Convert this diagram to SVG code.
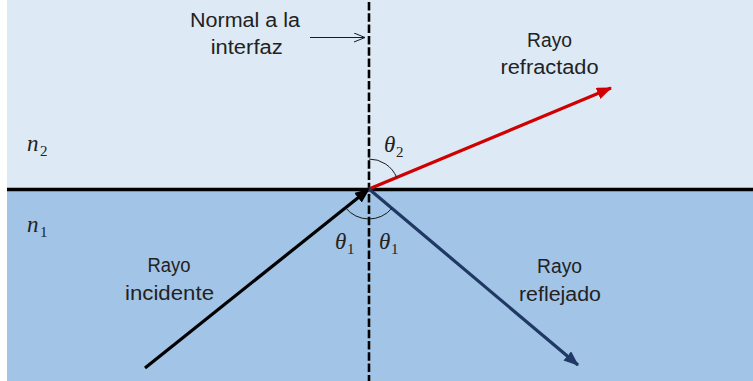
<svg xmlns="http://www.w3.org/2000/svg" width="753" height="381" viewBox="0 0 753 381">
<style>
.lbl{font-family:"Liberation Sans",Arial,sans-serif;font-size:19.5px;fill:#222;text-anchor:middle}
.math{font-family:"Liberation Serif","DejaVu Serif",serif;font-style:italic;font-size:23px;fill:#222}
.sub{font-family:"Liberation Serif","DejaVu Serif",serif;font-size:15px;fill:#222}
.arc{fill:none;stroke:#1a1a1a;stroke-width:1}
</style>
<defs>
<marker id="ahRed" markerUnits="userSpaceOnUse" markerWidth="16" markerHeight="12" refX="14" refY="6" orient="auto"><path d="M0,0 L15,6 L0,12 Z" fill="#d00000"/></marker>
<marker id="ahNavy" markerUnits="userSpaceOnUse" markerWidth="16" markerHeight="12" refX="14" refY="6" orient="auto"><path d="M0,0 L15,6 L0,12 Z" fill="#1f3864"/></marker>
<marker id="ahBlack" markerUnits="userSpaceOnUse" markerWidth="16" markerHeight="12" refX="14" refY="6" orient="auto"><path d="M0,0 L15,6 L0,12 Z" fill="#000"/></marker>
<marker id="ahOpen" markerUnits="userSpaceOnUse" markerWidth="12" markerHeight="10" refX="11" refY="5" orient="auto"><path d="M0,0.5 L11,5 L0,9.5" fill="none" stroke="#1a1a1a" stroke-width="1"/></marker>
</defs>
<rect x="0" y="0" width="753" height="381" fill="#ffffff"/>
<g id="medium2"><rect x="7" y="0" width="746" height="189" fill="#dde9f5"/></g>
<g id="medium1"><rect x="7" y="189" width="746" height="192" fill="#a2c4e6"/></g>
<g id="interface"><line x1="7" y1="189.5" x2="753" y2="189.5" stroke="#000" stroke-width="3.5"/></g>
<g id="normal"><line x1="369" y1="2" x2="369" y2="381" stroke="#000" stroke-width="2.6" stroke-dasharray="8.5,2.8"/></g>
<g id="connectors">
<line id="refracted" x1="369" y1="189" x2="611" y2="88" stroke="#d00000" stroke-width="3.2" marker-end="url(#ahRed)"/>
<line id="incident" x1="145" y1="368" x2="369" y2="189" stroke="#000" stroke-width="3.2" marker-end="url(#ahBlack)"/>
<line id="reflected" x1="369" y1="189" x2="578" y2="365" stroke="#1f3864" stroke-width="3.2" marker-end="url(#ahNavy)"/>
<line id="normal-pointer" x1="310" y1="37.5" x2="365" y2="37.5" stroke="#1a1a1a" stroke-width="1" marker-end="url(#ahOpen)"/>
</g>
<g id="angles">
<path class="arc" d="M369,159 A30,30 0 0 1 396.7,177.5"/>
<path class="arc" d="M345.6,207.8 A30,30 0 0 0 392,208.2"/>
</g>
<g id="label-normal">
<text class="lbl" x="245" y="27" textLength="110" lengthAdjust="spacingAndGlyphs">Normal a la</text>
<text class="lbl" x="246.7" y="54" textLength="72" lengthAdjust="spacingAndGlyphs">interfaz</text>
</g>
<g id="label-refracted">
<text class="lbl" x="549.5" y="46.7" textLength="45" lengthAdjust="spacingAndGlyphs">Rayo</text>
<text class="lbl" x="549.5" y="74.3" textLength="98" lengthAdjust="spacingAndGlyphs">refractado</text>
</g>
<g id="label-incident">
<text class="lbl" x="169" y="272" textLength="43" lengthAdjust="spacingAndGlyphs">Rayo</text>
<text class="lbl" x="169.5" y="300" textLength="89" lengthAdjust="spacingAndGlyphs">incidente</text>
</g>
<g id="label-reflected">
<text class="lbl" x="559.5" y="273.3" textLength="45" lengthAdjust="spacingAndGlyphs">Rayo</text>
<text class="lbl" x="560" y="301" textLength="82" lengthAdjust="spacingAndGlyphs">reflejado</text>
</g>
<g id="label-n2"><text class="math" x="27" y="151">n</text><text class="sub" x="40" y="156">2</text></g>
<g id="label-n1"><text class="math" x="27" y="232">n</text><text class="sub" x="40" y="237">1</text></g>
<g id="label-theta2"><text class="math" x="384" y="152">θ</text><text class="sub" x="396" y="157">2</text></g>
<g id="label-theta1a"><text class="math" x="335" y="249">θ</text><text class="sub" x="347" y="254">1</text></g>
<g id="label-theta1b"><text class="math" x="379" y="249">θ</text><text class="sub" x="391" y="254">1</text></g>
</svg>
